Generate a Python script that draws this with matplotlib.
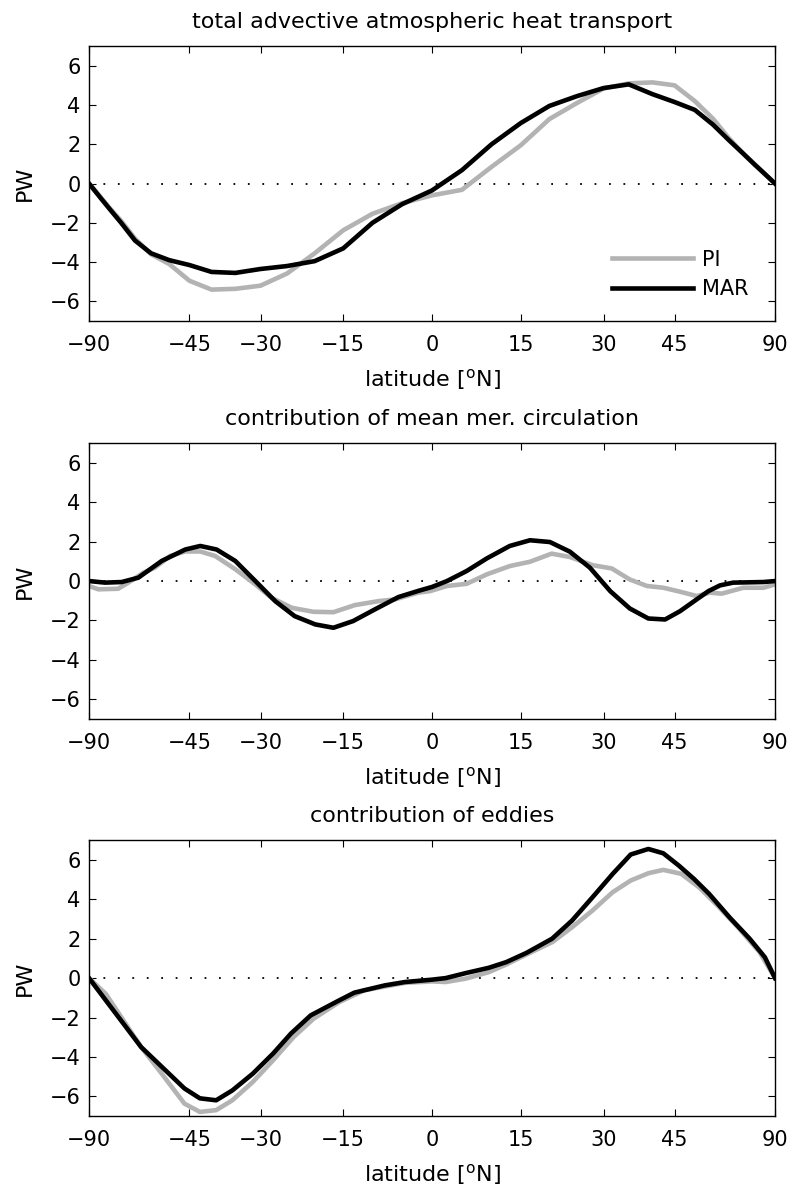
import numpy as np
import matplotlib
matplotlib.use('Agg')
import matplotlib.pyplot as plt

plt.rcParams['font.family'] = ['DejaVu Sans']
plt.rcParams['mathtext.default'] = 'regular'
plt.rcParams['font.size'] = 15

# panel 1: total advective transport (PW), 5 degree steps
lat_tot = [-90, -85, -80, -75, -70, -65, -60, -55, -50, -45, -40, -35, -30, -25, -20,
           -15, -10, -5, 0, 5, 10, 15, 20, 25, 30, 35, 40, 45, 50, 55, 60, 65, 70,
           75, 80, 85, 90]
tot_pi = [0, -0.08, -0.3, -0.7, -1.25, -1.9, -2.8, -3.6, -4.1, -4.95, -5.4, -5.36,
          -5.2, -4.58, -3.55, -2.38, -1.54, -1.0, -0.6, -0.32, 0.85, 1.95, 3.28, 4.1,
          4.84, 5.1, 5.15, 5.0, 4.2, 3.3, 2.3, 1.55, 1.0, 0.55, 0.25, 0.06, 0]
tot_mar = [0, -0.08, -0.33, -0.74, -1.3, -2.0, -2.9, -3.55, -3.9, -4.15, -4.5, -4.55,
           -4.35, -4.2, -3.95, -3.3, -2.0, -1.05, -0.35, 0.68, 2.0, 3.08, 3.95, 4.45,
           4.86, 5.05, 4.55, 4.15, 3.75, 3.0, 2.2, 1.54, 0.98, 0.56, 0.25, 0.06, 0]

# panel 2: mean meridional circulation
lat_mmc_pi = [-90, -76.6, -66.2, -62.3, -57.3, -53.9, -49.8, -46, -42.5, -39.2, -35,
              -31, -27.9, -24.1, -20.2, -16.7, -13, -9, -6.2, -2.3, -0.3, 2.5, 5.8,
              9.2, 13.1, 16.6, 20.4, 23.7, 28, 31.6, 35.2, 38.8, 42.4, 46.3, 50.5,
              54.1, 57.6, 65.2, 75, 90]
mmc_pi = [-0.25, -0.42, -0.39, -0.08, 0.42, 0.68, 1.27, 1.5, 1.5, 1.27, 0.6, -0.17,
          -0.85, -1.36, -1.56, -1.58, -1.22, -1.02, -0.93, -0.59, -0.51, -0.25, -0.14,
          0.34, 0.76, 0.98, 1.39, 1.22, 0.8, 0.64, 0.08, -0.25, -0.34, -0.54, -0.76,
          -0.59, -0.64, -0.34, -0.34, -0.17]
lat_mmc_mar = [-90, -72.4, -64.8, -58.9, -52, -46, -42.5, -38.9, -35, -31, -27.2,
               -23.6, -19.9, -16.7, -13.3, -9.6, -5.6, -2.3, 0, 2.5, 5.8, 9.2, 13.1,
               16.6, 20.1, 23.7, 27.4, 31.3, 35.2, 39.1, 42.8, 46.3, 50.5, 53.7, 57.1,
               61.4, 75, 90]
mmc_mar = [0, -0.08, -0.05, 0.17, 1.02, 1.6, 1.78, 1.6, 1.02, 0, -1.02, -1.78, -2.2,
           -2.37, -2.03, -1.44, -0.81, -0.5, -0.3, 0, 0.51, 1.15, 1.78, 2.07, 1.98,
           1.49, 0.68, -0.51, -1.39, -1.9, -1.95, -1.53, -0.93, -0.51, -0.22, -0.08,
           -0.05, 0]

# panel 3: eddies
lat_edd_pi = [-90, -72, -58, -52, -46.2, -42.6, -39, -35.6, -31.5, -27.6, -23.8,
              -20.2, -15.7, -11.4, -4.5, 0, 2.3, 5.6, 9.5, 12.5, 16, 20.5, 24.1, 27.9,
              31.8, 35.4, 39.1, 42.4, 46.6, 51.1, 56.8, 63.6, 72.7, 90]
edd_pi = [0, -0.8, -3.5, -4.85, -6.37, -6.79, -6.7, -6.2, -5.27, -4.17, -2.99, -2.06,
          -1.22, -0.62, -0.24, -0.17, -0.2, -0.03, 0.3, 0.69, 1.2, 1.82, 2.58, 3.43,
          4.36, 4.95, 5.32, 5.49, 5.29, 4.61, 3.6, 2.5, 1.32, 0]
lat_edd_mar = [-90, -58, -46.2, -42.6, -39, -35.6, -31.5, -27.6, -24.3, -20.7, -15.7,
               -13.1, -7.9, -4.5, 0, 2.3, 5.6, 9.5, 12.5, 16, 20.5, 24.1, 27.9, 31.8,
               35.4, 39.1, 42.4, 46, 49.8, 53.9, 60.1, 67.8, 76, 90]
edd_mar = [0, -3.5, -5.6, -6.1, -6.2, -5.7, -4.85, -3.83, -2.82, -1.89, -1.13, -0.74,
           -0.37, -0.2, -0.08, 0, 0.25, 0.52, 0.81, 1.28, 2.0, 2.92, 4.1, 5.29, 6.27,
           6.55, 6.33, 5.71, 5.03, 4.27, 3.09, 2.0, 1.06, 0]

titles = ['total advective atmospheric heat transport',
          'contribution of mean mer. circulation',
          'contribution of eddies']
xtick_deg = [-90, -45, -30, -15, 0, 15, 30, 45, 90]
ytick_vals = [-6, -4, -2, 0, 2, 4, 6]


def sinlat(lat):
    return np.sin(np.deg2rad(np.array(lat, dtype=float)))


def fmt(v):
    return str(v).replace('-', '\u2212')


fig = plt.figure(figsize=(7.94, 11.93), dpi=100)
boxes = [[0.1121, 0.7309, 0.864, 0.2305],
         [0.1121, 0.3973, 0.864, 0.2313],
         [0.1121, 0.0645, 0.864, 0.2313]]
panels = [(lat_tot, tot_pi, lat_tot, tot_mar),
          (lat_mmc_pi, mmc_pi, lat_mmc_mar, mmc_mar),
          (lat_edd_pi, edd_pi, lat_edd_mar, edd_mar)]

for i in range(3):
    ax = fig.add_axes(boxes[i])
    lp, vp, lm, vm = panels[i]
    ax.axhline(0, color='k', lw=1.3, ls=(0, (1, 7)), zorder=1)
    ax.plot(sinlat(lp), vp, color='0.7', lw=3.3, label='PI', zorder=2)
    ax.plot(sinlat(lm), vm, color='k', lw=3.3, label='MAR', zorder=3)
    ax.set_xlim(-1, 1)
    ax.set_ylim(-7, 7)
    ax.set_xticks(sinlat(xtick_deg))
    ax.set_xticklabels([fmt(d) for d in xtick_deg])
    ax.set_yticks(ytick_vals)
    ax.set_yticklabels([fmt(v) for v in ytick_vals])
    ax.tick_params(direction='in', length=5, width=0.8, top=True, right=True)
    ax.tick_params(axis='x', pad=10)
    ax.tick_params(axis='y', pad=6)
    for s in ax.spines.values():
        s.set_linewidth(1.0)
    ax.set_xlabel('latitude [$^o$N]', labelpad=9, fontsize=16)
    ax.set_ylabel('PW', labelpad=11, fontsize=16)
    ax.set_title(titles[i], pad=13, fontsize=16)
    if i == 0:
        ax.legend(loc='lower right', bbox_to_anchor=(0.962, 0.08), frameon=False,
                  handlelength=3.9, handletextpad=0.45, labelspacing=0.45,
                  borderpad=0, borderaxespad=0)

fig.savefig('out.png', dpi=100)
